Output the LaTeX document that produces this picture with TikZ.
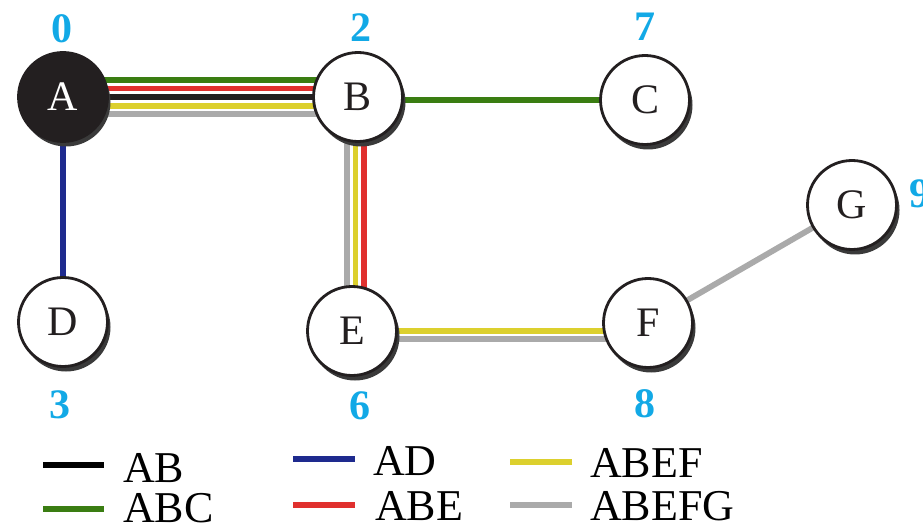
\documentclass[tikz,border=0pt]{standalone}
\usepackage{fontspec}
\setmainfont{Liberation Serif}
\usetikzlibrary{shadows,backgrounds}
\definecolor{pgreen}{HTML}{3A7D12}
\definecolor{pred}{HTML}{E0302E}
\definecolor{pblack}{HTML}{231F20}
\definecolor{pyellow}{HTML}{DCD02E}
\definecolor{pgray}{HTML}{AAAAAA}
\definecolor{pblue}{HTML}{1E2A8E}
\definecolor{pcyan}{HTML}{12A9E6}
\definecolor{pshadow}{HTML}{3A3A3A}
\tikzset{
  vert/.style={circle, draw=pblack, line width=2.8pt, fill=white, minimum size=89pt, inner sep=0pt,
    font=\fontsize{42}{42}\selectfont, text=pblack,
    drop shadow={shadow xshift=3pt, shadow yshift=-5pt, fill=pshadow, opacity=1}},
  root/.style={vert, fill=pblack, text=white},
  dist/.style={text=pcyan, font=\fontsize{42}{42}\selectfont\bfseries, inner sep=0pt},
  route/.style={line width=5.8pt},
  legline/.style={line width=6pt},
  legtext/.style={font=\fontsize{44}{44}\selectfont, anchor=base west, inner sep=0pt, text=black},
}
\begin{document}
\begin{tikzpicture}[x=1pt,y=-1pt]
\useasboundingbox (0,0) rectangle (923,526);
% vertices
\node[root] (A) at (63,97) {A};
\node[vert] (B) at (358,97) {B};
\node[vert] (C) at (645,100) {C};
\node[vert] (D) at (63,322) {D};
\node[vert] (E) at (352,331) {E};
\node[vert] (F) at (648,323) {F};
\node[vert] (G) at (852,205) {G};
% distances
\node[dist] (d0) at (62,29) {0};
\node[dist] (d2) at (361,28) {2};
\node[dist] (d7) at (645,27) {7};
\node[dist] (d3) at (60,405) {3};
\node[dist] (d6) at (360,406) {6};
\node[dist] (d8) at (645,404) {8};
\node[dist, anchor=west] (d9) at (909,194) {9};
% routes
\begin{scope}[on background layer]
  \draw[route,pgreen]  ([yshift=16.8pt]A.center) -- ([yshift=16.8pt]B.center);
  \draw[route,pred]    ([yshift=8.4pt]A.center) -- ([yshift=8.4pt]B.center);
  \draw[route,pblack]  (A.center) -- (B.center);
  \draw[route,pyellow] ([yshift=-8.7pt]A.center) -- ([yshift=-8.7pt]B.center);
  \draw[route,pgray]   ([yshift=-17pt]A.center) -- ([yshift=-17pt]B.center);
  \draw[route,pgreen]  ([yshift=-3pt]B.center) -- (C.center);
  \draw[route,pblue]   (A.center) -- (D.center);
  \draw[route,pgray]   ([xshift=-11pt]B.center) -- ([xshift=-11pt]B.center |- E.center);
  \draw[route,pyellow] ([xshift=-2.5pt]B.center) -- ([xshift=-2.5pt]B.center |- E.center);
  \draw[route,pred]    ([xshift=6pt]B.center) -- ([xshift=6pt]B.center |- E.center);
  \draw[route,pyellow] (E.center) -- (E.center -| F.center);
  \draw[route,pgray]   ([yshift=-8.3pt]E.center) -- ([yshift=-8.3pt]E.center -| F.center);
  \draw[route,pgray]   (F.center) -- (G.center);
\end{scope}
% legend
\coordinate (l1a) at (43,465); \coordinate (l1b) at (104,465);
\coordinate (l2a) at (43,509); \coordinate (l2b) at (104,509);
\coordinate (l3a) at (293,459); \coordinate (l3b) at (355,459);
\coordinate (l4a) at (293,505); \coordinate (l4b) at (355,505);
\coordinate (l5a) at (510,462); \coordinate (l5b) at (572,462);
\coordinate (l6a) at (510,505); \coordinate (l6b) at (572,505);
\draw[legline,black]   (l1a) -- (l1b);
\draw[legline,pgreen]  (l2a) -- (l2b);
\draw[legline,pblue]   (l3a) -- (l3b);
\draw[legline,pred]    (l4a) -- (l4b);
\draw[legline,pyellow] (l5a) -- (l5b);
\draw[legline,pgray]   (l6a) -- (l6b);
\node[legtext] (t1) at (123,482) {AB};
\node[legtext] (t2) at (123,522) {ABC};
\node[legtext] (t3) at (373,475) {AD};
\node[legtext] (t4) at (375,520) {ABE};
\node[legtext] (t5) at (590,477) {ABEF};
\node[legtext] (t6) at (590,520) {ABEFG};
\end{tikzpicture}
\end{document}
